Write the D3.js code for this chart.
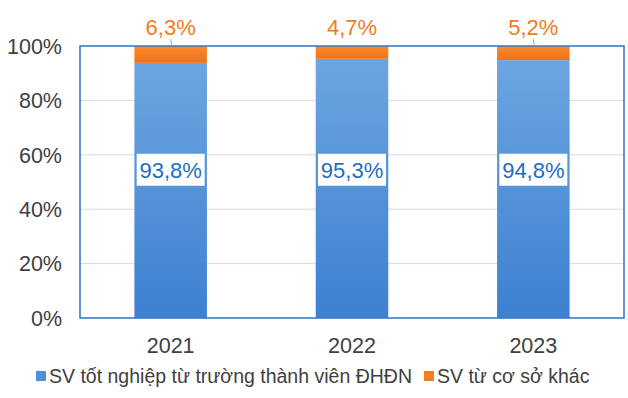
<!DOCTYPE html>
<head>
	<script src="https://d3js.org/d3.v7.min.js"></script>
	<style>
		body { margin: 0; background: #fff; }
		text { font-family: "Liberation Sans", Arial, sans-serif; }
	</style>
</head>
<body>
	<script type="text/javascript">

		var w = 628;
		var h = 398;

		var years = ["2021", "2022", "2023"];
		var dhdn = [93.8, 95.3, 94.8];
		var khac = [6.3, 4.7, 5.2];
		var yTicks = [0, 20, 40, 60, 80, 100];
		var seriesNames = ["SV tốt nghiệp từ trường thành viên ĐHĐN", "SV từ cơ sở khác"];

		var blue = "#4f8fd8";
		var orange = "#f57e20";

		var pLeft = 80, pRight = 624, pTop = 46, pBottom = 318;

		var svg = d3.select("body")
			.append("svg")
			.attr("width", w)
			.attr("height", h);

		var defs = svg.append("defs");
		var grad = defs.append("linearGradient")
			.attr("id", "gb").attr("x1", 0).attr("y1", 0).attr("x2", 0).attr("y2", 1);
		grad.append("stop").attr("offset", "0%").attr("stop-color", "#6ca5e0");
		grad.append("stop").attr("offset", "100%").attr("stop-color", "#3d81d1");
		var grad2 = defs.append("linearGradient")
			.attr("id", "go").attr("x1", 0).attr("y1", 0).attr("x2", 0).attr("y2", 1);
		grad2.append("stop").attr("offset", "0%").attr("stop-color", "#fb8a2c");
		grad2.append("stop").attr("offset", "100%").attr("stop-color", "#f07318");

		var xScale = d3.scaleBand()
			.domain(years)
			.range([pLeft, pRight])
			.paddingInner(0.6)
			.paddingOuter(0.3);

		var yScale = d3.scaleLinear()
			.domain([0, 100])
			.range([pBottom, pTop]);

		var cx = function(i){ return xScale(years[i]) + xScale.bandwidth() / 2; };

		// grid
		svg.selectAll(".grid")
			.data(yTicks.slice(1, -1))
			.enter()
			.append("line")
			.attr("x1", pLeft).attr("x2", pRight)
			.attr("y1", function(d){ return yScale(d); })
			.attr("y2", function(d){ return yScale(d); })
			.attr("stroke", "#dadada")
			.attr("stroke-width", 1);

		// y labels
		svg.selectAll(".ylab")
			.data(yTicks)
			.enter()
			.append("text")
			.attr("x", 62)
			.attr("y", function(d){ return yScale(d); })
			.attr("dy", "0.36em")
			.attr("text-anchor", "end")
			.attr("font-size", 21.5)
			.attr("fill", "#404040")
			.text(function(d){ return d + "%"; });

		// bars
		var total = function(i){ return dhdn[i] + khac[i]; };

		svg.selectAll(".bblue")
			.data(dhdn)
			.enter()
			.append("rect")
			.attr("x", function(d, i){ return xScale(years[i]); })
			.attr("width", xScale.bandwidth())
			.attr("y", function(d){ return yScale(d); })
			.attr("height", function(d){ return pBottom - yScale(d); })
			.attr("fill", "url(#gb)");

		svg.selectAll(".borange")
			.data(khac)
			.enter()
			.append("rect")
			.attr("x", function(d, i){ return xScale(years[i]); })
			.attr("width", xScale.bandwidth())
			.attr("y", function(d, i){ return yScale(Math.min(100, total(i))); })
			.attr("height", function(d, i){ return yScale(dhdn[i]) - yScale(Math.min(100, total(i))); })
			.attr("fill", "url(#go)");

		// plot border
		svg.append("rect")
			.attr("x", pLeft).attr("y", pTop)
			.attr("width", pRight - pLeft).attr("height", pBottom - pTop)
			.attr("fill", "none")
			.attr("stroke", "#3b7cc6")
			.attr("stroke-width", 1.6);

		// x labels
		svg.selectAll(".xlab")
			.data(years)
			.enter()
			.append("text")
			.attr("x", function(d, i){ return cx(i); })
			.attr("y", 353)
			.attr("text-anchor", "middle")
			.attr("font-size", 21.5)
			.attr("fill", "#404040")
			.text(function(d){ return d; });

		// inner labels (white box)
		var lab = svg.selectAll(".inlab")
			.data(dhdn)
			.enter()
			.append("g")
			.attr("transform", function(d, i){
				return "translate(" + cx(i) + "," + yScale(54.5) + ")";
			});
		lab.append("rect")
			.attr("x", -34).attr("y", -16)
			.attr("width", 68).attr("height", 32)
			.attr("fill", "#fff");
		lab.append("text")
			.attr("text-anchor", "middle")
			.attr("dy", "0.36em")
			.attr("font-size", 22)
			.attr("fill", "#1f6dbf")
			.text(function(d){ return String(d).replace(".", ",") + "%"; });

		// leader lines (2021, 2023)
		svg.selectAll(".leader")
			.data([0, 2])
			.enter()
			.append("line")
			.attr("x1", function(i){ return cx(i); })
			.attr("x2", function(i){ return cx(i) + 1; })
			.attr("y1", 39).attr("y2", 46)
			.attr("stroke", "#a6a6a6")
			.attr("stroke-width", 1);

		svg.selectAll(".toplab")
			.data(khac)
			.enter()
			.append("text")
			.attr("x", function(d, i){ return cx(i); })
			.attr("y", 35)
			.attr("text-anchor", "middle")
			.attr("font-size", 22)
			.attr("fill", "#f07c22")
			.text(function(d){ return String(d).replace(".", ",") + "%"; });

		// legend
		var lx = [36, 424];
		var lcol = [blue, orange];
		seriesNames.forEach(function(n, i){
			svg.append("rect")
				.attr("x", lx[i]).attr("y", 371)
				.attr("width", 10).attr("height", 10)
				.attr("fill", lcol[i]);
			svg.append("text")
				.attr("x", lx[i] + 13).attr("y", 383)
				.attr("font-size", 19.5)
				.attr("fill", "#404040")
				.text(n);
		});

	</script>
</body>
